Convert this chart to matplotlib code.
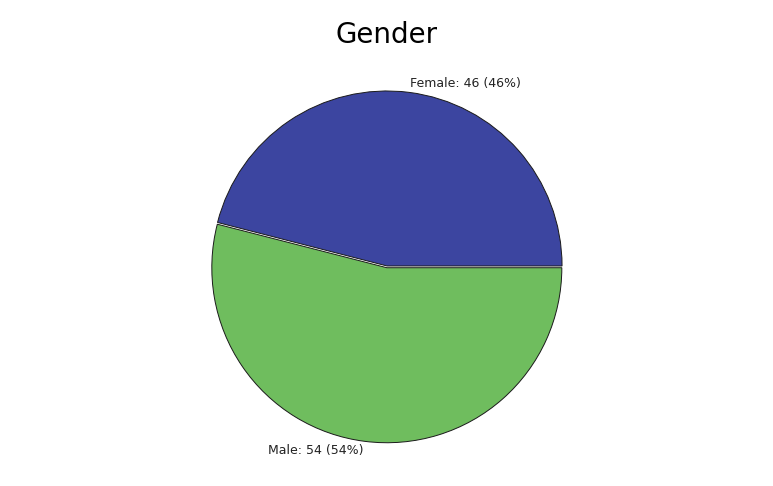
import matplotlib.pyplot as plt

categories = ['Female', 'Male']
counts = [46, 54]
colors = ['#3C45A0', '#6FBD5E']

total = sum(counts)
labels = [f'{c}: {v} ({v * 100 / total:.0f}%)' for c, v in zip(categories, counts)]

fig = plt.figure(figsize=(7.73, 4.86), dpi=100)
ax = fig.add_axes([0.2743, 0.0926, 0.4528, 0.7202])
ax.pie(counts, labels=labels, colors=colors, startangle=0, counterclock=True,
       explode=[0, 0.01], labeldistance=1.05,
       wedgeprops=dict(edgecolor='#1a1a1a', linewidth=0.7),
       textprops=dict(fontsize=9, color='#222222'))
ax.set_xlim(-1, 1)
ax.set_ylim(-1, 1)
ax.set_aspect('equal')
ax.axis('off')
fig.text(0.5006, 0.928, 'Gender', ha='center', va='center', fontsize=20)

fig.savefig('out.png', dpi=100, facecolor='white')
